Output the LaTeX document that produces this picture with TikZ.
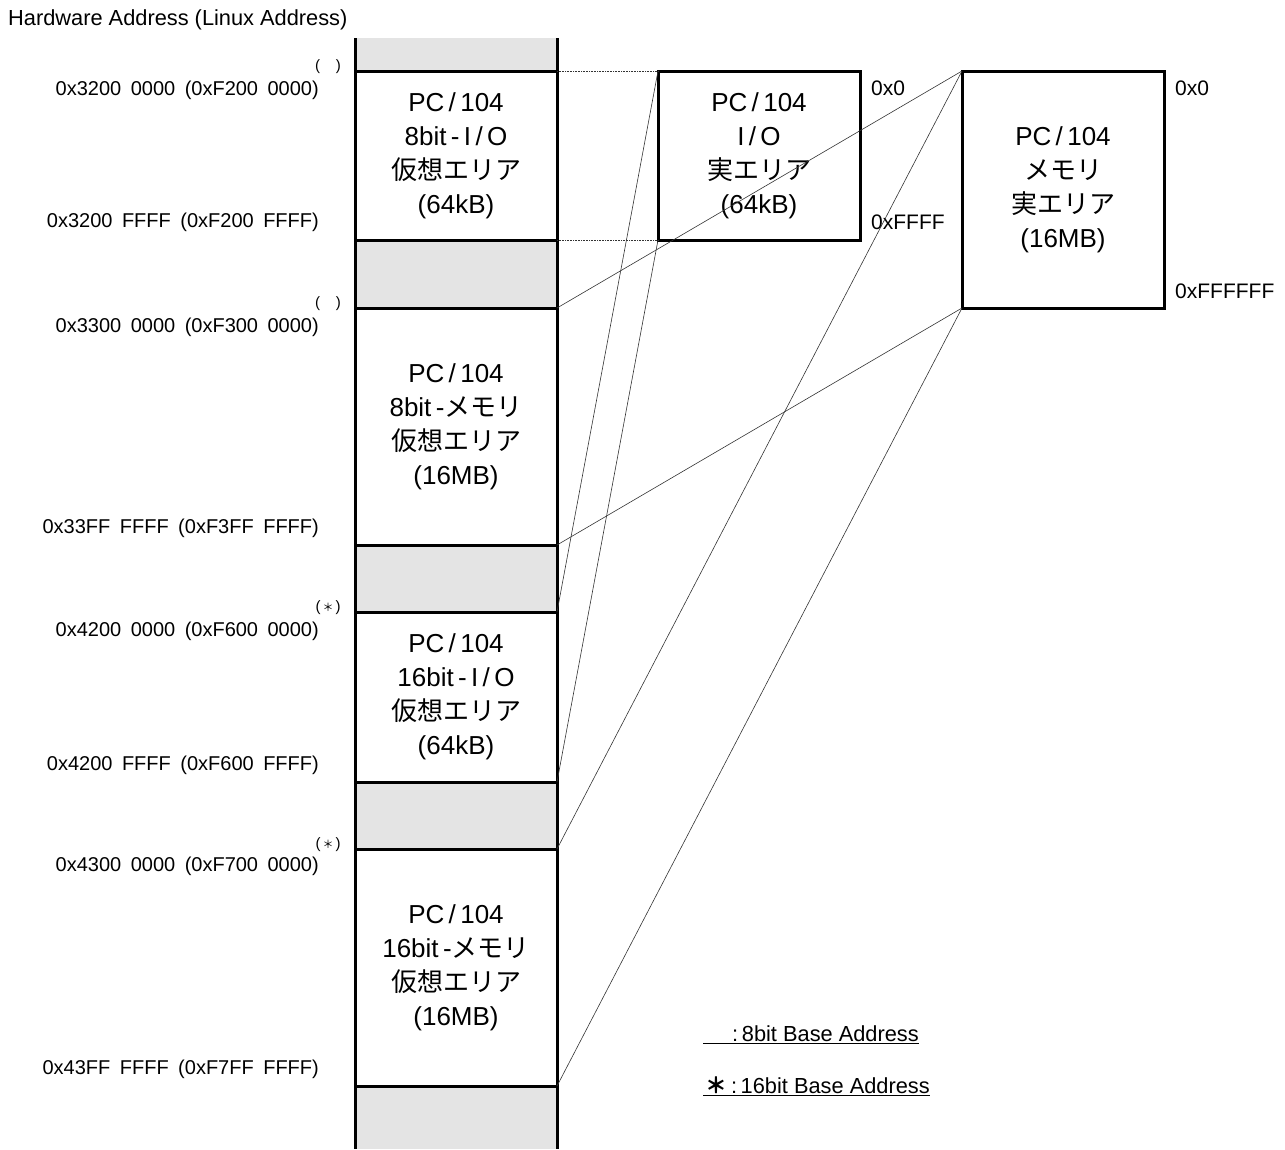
\documentclass[tikz,border=0pt]{standalone}
\usepackage{fontspec}
\setmainfont{Liberation Sans}
\newfontfamily\jp{Noto Sans CJK JP}
\definecolor{gapgray}{RGB}{228,228,228}
\newcommand{\gap}{\hspace{9.5pt}}

\begin{document}
\begin{tikzpicture}[x=1pt,y=-1pt]
        \useasboundingbox (0,0) rectangle (1285,1149);

        \node[anchor=west,inner sep=0pt,font=\fontsize{21.8}{25}\selectfont] (title) at (8,20) {Hardware Address (Linux Address)};

        \fill[gapgray] (355,38) rectangle (557,1149);

        \begin{scope}[every node/.style={draw,fill=white,line width=3pt,outer sep=0pt,inner sep=0pt, minimum width=202pt, align=center, font=\fontsize{26}{34}\selectfont}]
            \node[minimum height=169pt] (V1) at (456,155.5) {PC\,/\,104\\8bit\,-\,I\,/\,O\\{\jp 仮想エリア}\\(64kB)};
            \node[minimum height=237pt] (V2) at (456,426.5) {PC\,/\,104\\8bit\,-{\jp メモリ}\\{\jp 仮想エリア}\\(16MB)};
            \node[minimum height=170pt] (V3) at (456,697) {PC\,/\,104\\16bit\,-\,I\,/\,O\\{\jp 仮想エリア}\\(64kB)};
            \node[minimum height=237pt] (V4) at (456,967.5) {PC\,/\,104\\16bit\,-{\jp メモリ}\\{\jp 仮想エリア}\\(16MB)};

            \node[minimum height=169pt] (R1) at (759,155.5) {PC\,/\,104\\I\,/\,O\\{\jp 実エリア}\\(64kB)};
            \node[minimum height=237pt] (R2) at (1063,189.5) {PC\,/\,104\\{\jp メモリ}\\{\jp 実エリア}\\(16MB)};
        \end{scope}

        \draw[line width=3pt] (355,38) -- (355,1149);
        \draw[line width=3pt] (557,38) -- (557,1149);

        \begin{scope}[every node/.style={anchor=east,inner sep=0pt,font=\fontsize{20}{24}\selectfont}]
            \node (A1) at (319,90) {0x3200\gap 0000\gap (0xF200\gap 0000)};
            \node (A2) at (319,222) {0x3200\gap FFFF\gap (0xF200\gap FFFF)};
            \node (A3) at (319,327) {0x3300\gap 0000\gap (0xF300\gap 0000)};
            \node (A4) at (319,528) {0x33FF\gap FFFF\gap (0xF3FF\gap FFFF)};
            \node (A5) at (319,631) {0x4200\gap 0000\gap (0xF600\gap 0000)};
            \node (A6) at (319,765) {0x4200\gap FFFF\gap (0xF600\gap FFFF)};
            \node (A7) at (319,866) {0x4300\gap 0000\gap (0xF700\gap 0000)};
            \node (A8) at (319,1069) {0x43FF\gap FFFF\gap (0xF7FF\gap FFFF)};
        \end{scope}

        \begin{scope}[every node/.style={inner sep=0pt,font=\fontsize{15}{17}\selectfont}]
            \node (M1) at (328,67) {(\hspace{16pt})};
            \node (M2) at (328,304) {(\hspace{16pt})};
            \node (M3) at (328,608) {(\hspace{2pt}{\jp\fontsize{11}{13}\selectfont ＊}\hspace{2pt})};
            \node (M4) at (328,845) {(\hspace{2pt}{\jp\fontsize{11}{13}\selectfont ＊}\hspace{2pt})};
        \end{scope}

        \begin{scope}[every node/.style={anchor=west,inner sep=0pt,font=\fontsize{21}{25}\selectfont}]
            \node (L1) at (871,88) {0x0};
            \node (L2) at (871,222) {0xFFFF};
            \node (L3) at (1175,88) {0x0};
            \node (L4) at (1175,291) {0xFFFFFF};
        \end{scope}

        \begin{scope}[every node/.style={anchor=west,inner sep=0pt,font=\fontsize{21.8}{25}\selectfont}]
            \node (K1) at (703,1035) {\underline{\hspace{29pt}:\,8bit Base Address}};
            \node (K2) at (703,1086) {\underline{\hspace{2pt}{\jp\bfseries ＊}\hspace{4pt}:\,16bit Base Address}};
        \end{scope}

        \begin{scope}[every edge/.style={draw=black!80, line width=0.6pt}]
            \path [-] (V1.north east) edge[densely dotted] (R1.north west);
            \path [-] (V1.south east) edge[densely dotted] (R1.south west);
            \path [-] (V2.north east) edge (R2.north west);
            \path [-] (V2.south east) edge (R2.south west);
            \path [-] (V3.north east) edge (R1.north west);
            \path [-] (V3.south east) edge (R1.south west);
            \path [-] (V4.north east) edge (R2.north west);
            \path [-] (V4.south east) edge (R2.south west);
        \end{scope}
    \end{tikzpicture}
\end{document}
